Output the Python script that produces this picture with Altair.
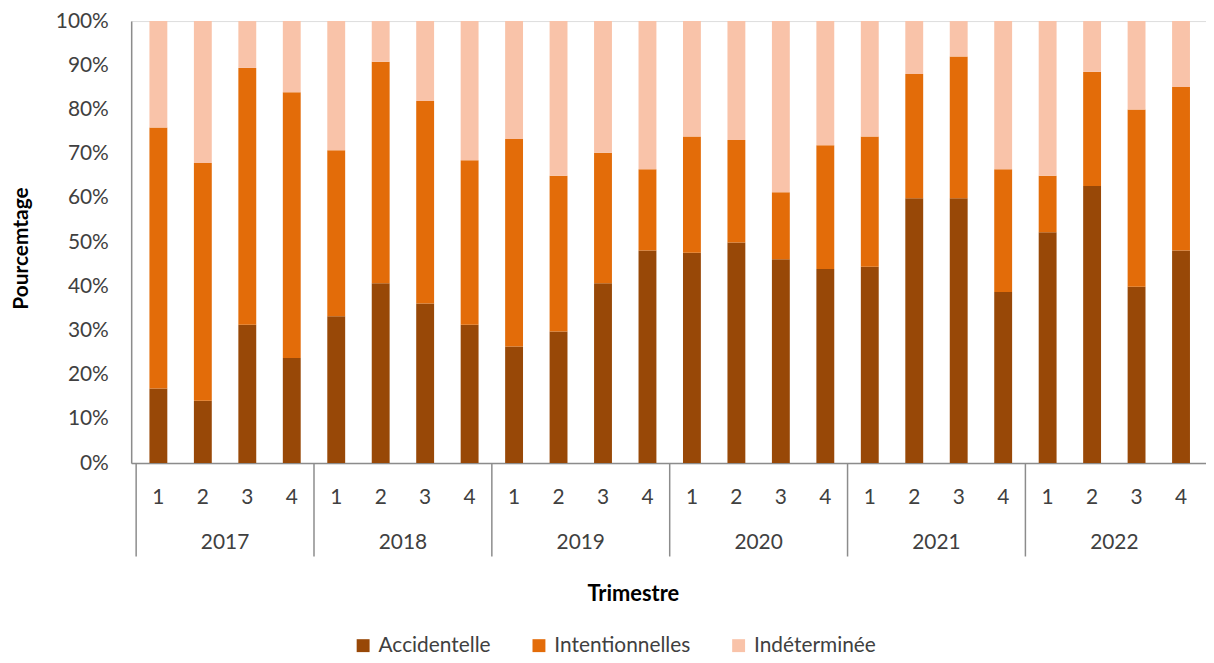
import altair as alt
import pandas as pd

years = ["2017", "2018", "2019", "2020", "2021", "2022"]
quarters = ["1", "2", "3", "4"]
categories = ["Accidentelle", "Intentionnelles", "Indéterminée"]

# percentage share of each category, per quarter (2017 Q1 ... 2022 Q4)
accidentelle = [16.9, 14.1, 31.3, 23.8, 33.2, 40.7, 36.1, 31.3,
                26.4, 29.8, 40.7, 48.1, 47.6, 49.9, 46.1, 43.9,
                44.4, 59.9, 59.9, 38.7, 52.2, 62.7, 39.9, 48.1]
intentionnelles = [59.0, 53.8, 58.1, 60.1, 37.6, 50.1, 45.8, 37.2,
                   46.9, 35.2, 29.5, 18.4, 26.3, 23.2, 15.2, 28.0,
                   29.5, 28.1, 32.1, 27.8, 12.8, 25.8, 40.1, 37.0]
indeterminee = [24.1, 32.1, 10.6, 16.1, 29.2, 9.2, 18.1, 31.5,
                26.7, 35.0, 29.8, 33.5, 26.1, 26.9, 38.7, 28.1,
                26.1, 12.0, 8.0, 33.5, 35.0, 11.5, 20.0, 14.9]
y_ticks = [0, 10, 20, 30, 40, 50, 60, 70, 80, 90, 100]

colors = ["#984807", "#E36C09", "#F9C3A9"]
axis_grey = "#8c8c8c"
text_grey = "#404040"

series = [accidentelle, intentionnelles, indeterminee]
rows = []
for yi, yr in enumerate(years):
    for qi, q in enumerate(quarters):
        idx = yi * len(quarters) + qi
        for ci, cat in enumerate(categories):
            rows.append({"idx": idx, "annee": yr, "trimestre": q,
                         "cat": cat, "ordre": ci, "value": series[ci][idx]})
df = pd.DataFrame(rows)

df_q = pd.DataFrame([{"idx": yi * 4 + qi, "label": q}
                     for yi in range(len(years)) for qi, q in enumerate(quarters)])
df_y = pd.DataFrame([{"idx": yi * 4 + 1.5, "label": yr} for yi, yr in enumerate(years)])
df_sep = pd.DataFrame([{"idx": yi * 4 - 0.5} for yi in range(len(years))])

xscale = alt.Scale(domain=[-0.5, 23.45], nice=False, zero=False)

bars = alt.Chart(df).mark_bar(width=18).encode(
    x=alt.X("idx:Q", scale=xscale,
            axis=alt.Axis(labels=False, ticks=False, grid=False, domain=True,
                          domainColor=axis_grey, domainWidth=1.5,
                          title="Trimestre", titleFont="Lato", titleFontSize=22,
                          titleFontWeight="bold", titleColor="#000000",
                          titleX=505, titleY=138, titleAlign="center",
                          titleBaseline="alphabetic")),
    y=alt.Y("value:Q", stack="zero",
            scale=alt.Scale(domain=[0, 100], nice=False),
            axis=alt.Axis(values=y_ticks, labelExpr="datum.value + '%'",
                          grid=False, ticks=False, tickSize=0, labelPadding=23,
                          labelFont="Lato", labelFontSize=21, labelColor=text_grey,
                          domainColor=axis_grey, domainWidth=1.5,
                          title="Pourcemtage", titleFont="Lato", titleFontSize=21,
                          titleFontWeight="bold", titleColor="#000000",
                          titleAngle=270, titleX=-104, titleY=228.5,
                          titleAlign="center", titleBaseline="alphabetic")),
    color=alt.Color("cat:N", sort=categories,
                    scale=alt.Scale(domain=categories, range=colors),
                    legend=alt.Legend(orient="none", direction="horizontal",
                                      legendX=223, legendY=618, title=None,
                                      symbolType="square", symbolSize=169,
                                      symbolStrokeWidth=0, symbolOpacity=1,
                                      labelFont="Lato", labelFontSize=21,
                                      labelColor=text_grey, labelOffset=5,
                                      columnPadding=38, padding=0)),
    order=alt.Order("ordre:Q", sort="ascending"),
)

q_labels = alt.Chart(df_q).mark_text(font="Lato", fontSize=21, color=text_grey,
                                      baseline="alphabetic", align="center").encode(
    x=alt.X("idx:Q", scale=xscale), y=alt.value(486), text="label:N")

y_labels = alt.Chart(df_y).mark_text(font="Lato", fontSize=21, color=text_grey,
                                      baseline="alphabetic", align="center").encode(
    x=alt.X("idx:Q", scale=xscale), y=alt.value(531.5), text="label:N")

seps = alt.Chart(df_sep).mark_rule(color=axis_grey, strokeWidth=1.5).encode(
    x=alt.X("idx:Q", scale=xscale), y=alt.value(445), y2=alt.value(539))

chart = alt.layer(bars, seps, q_labels, y_labels).properties(
    width=1082, height=445,
    autosize=alt.AutoSizeParams(type="none"),
    padding={"left": 124, "top": 11, "right": 0, "bottom": 191},
    background="white",
).configure_view(stroke=None).configure(font="Lato")

chart.save("out.html", embed_options={"renderer": "svg", "actions": False})
